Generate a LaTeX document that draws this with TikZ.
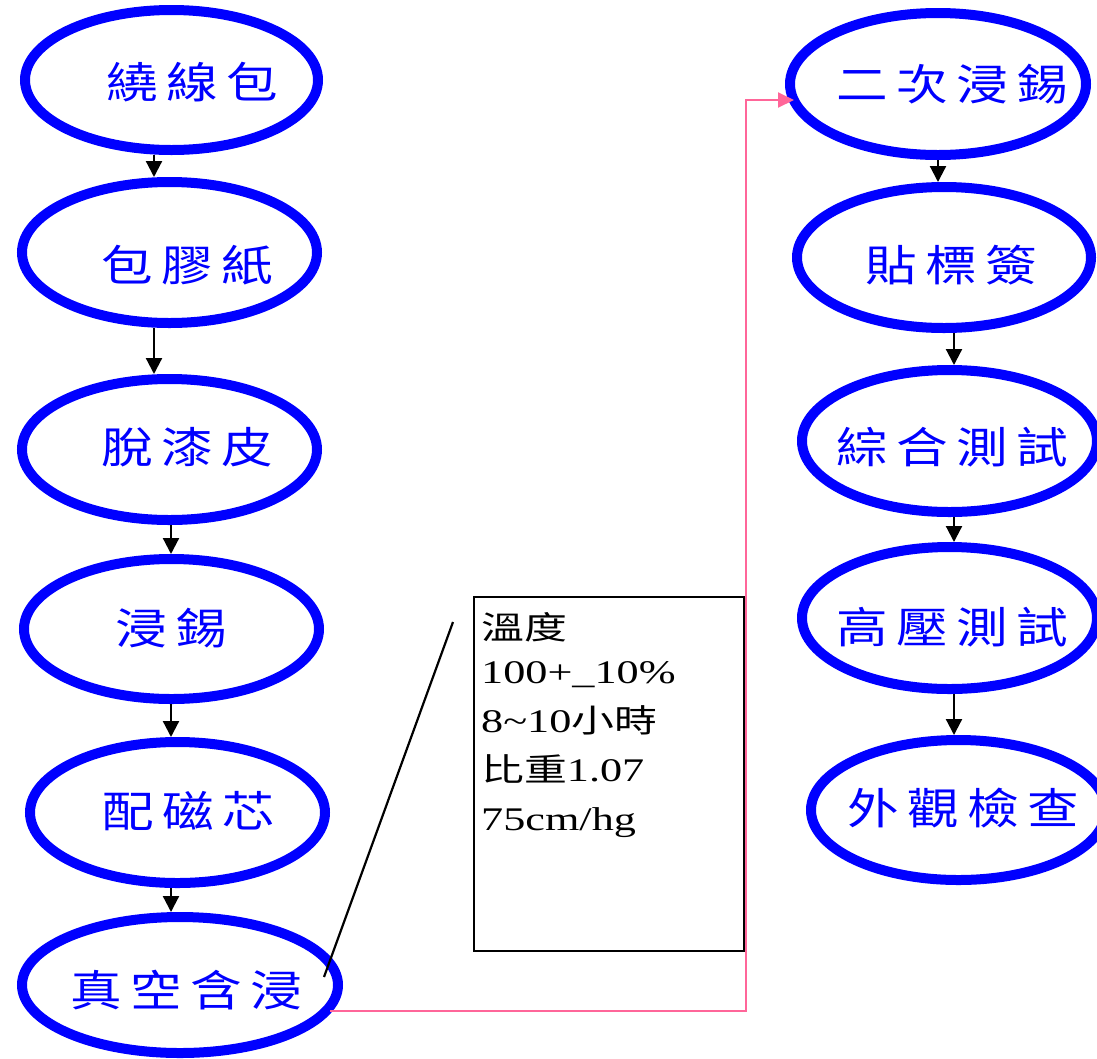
\documentclass[tikz,border=0pt]{standalone}
\usepackage{graphicx}
\usepackage{fontspec}
\setmainfont{Liberation Serif}
\newfontfamily\cjk{Noto Sans CJK TC}
\usetikzlibrary{shapes.geometric,arrows.meta}
\definecolor{ellblue}{RGB}{0,0,255}
\definecolor{linkpink}{RGB}{255,102,153}
\newcommand\cg{\hspace{7pt}}
\newcommand\ctext[1]{\scalebox{1.2}[1]{\cjk\fontsize{43}{50}\selectfont #1}}
\newcommand\bcjk[1]{{\cjk\fontsize{32}{49}\selectfont #1}}
\begin{document}
\begin{tikzpicture}[x=1pt,y=-1pt,
  ell/.style={draw=ellblue, line width=10pt, ellipse, inner sep=0pt, fill=white},
  lbl/.style={text=ellblue, inner sep=0pt},
  arr/.style={draw=black, line width=2.2pt, -{Triangle[width=16pt,length=16pt]}},
  pinkarr/.style={draw=linkpink, line width=2pt, -{Triangle[width=15pt,length=16pt]}},
  infobox/.style={draw=black, line width=2pt, inner sep=0pt}]
\useasboundingbox (0,0) rectangle (1097,1058);
\clip (0,0) rectangle (1097,1058);
\fill[white] (0,0) rectangle (1097,1058);

% left column
\node[ell, minimum width=293pt, minimum height=140pt] (e1) at (171.5,80) {};
\node[ell, minimum width=295pt, minimum height=141pt] (e2) at (169.5,252.5) {};
\node[ell, minimum width=295pt, minimum height=141pt] (e3) at (169.5,449.5) {};
\node[ell, minimum width=295pt, minimum height=140pt] (e4) at (171.5,629) {};
\node[ell, minimum width=295pt, minimum height=141pt] (e5) at (177.5,812.5) {};
\node[ell, minimum width=316pt, minimum height=136pt] (e6) at (180,985) {};
% right column
\node[ell, minimum width=296pt, minimum height=142pt] (e7) at (938,84) {};
\node[ell, minimum width=294pt, minimum height=141pt] (e8) at (944,257.5) {};
\node[ell, minimum width=295pt, minimum height=142pt] (e9) at (949.5,441) {};
\node[ell, minimum width=295pt, minimum height=142pt] (e10) at (949.5,618) {};
\node[ell, minimum width=295pt, minimum height=140pt] (e11) at (958.5,810) {};

% labels
\node[lbl] (t1) at (192.5,82.5) {\ctext{繞\cg 線\cg 包}};
\node[lbl] (t2) at (187.5,265.5) {\ctext{包\cg 膠\cg 紙}};
\node[lbl] (t3) at (187.5,447.5) {\ctext{脫\cg 漆\cg 皮}};
\node[lbl] (t4) at (171,628) {\ctext{浸\cg 錫}};
\node[lbl] (t5) at (188,811) {\ctext{配\cg 磁\cg 芯}};
\node[lbl] (t6) at (186,990) {\ctext{真\cg 空\cg 含\cg 浸}};
\node[lbl] (t7) at (952,84) {\ctext{二\cg 次\cg 浸\cg 錫}};
\node[lbl] (t8) at (951,265) {\ctext{貼\cg 標\cg 簽}};
\node[lbl] (t9) at (952,447) {\ctext{綜\cg 合\cg 測\cg 試}};
\node[lbl] (t10) at (952,627.5) {\ctext{高\cg 壓\cg 測\cg 試}};
\node[lbl] (t11) at (963.5,808) {\ctext{外\cg 觀\cg 檢\cg 查}};

% arrow columns
\coordinate (xa) at (154,0);
\coordinate (xb) at (171,0);
\coordinate (xc) at (938,0);
\coordinate (xd) at (954,0);

\draw[arr] (e1.south -| xa) -- (e2.north -| xa);
\draw[arr] (e2.south -| xa) -- (e3.north -| xa);
\draw[arr] (e3.south -| xb) -- (e4.north -| xb);
\draw[arr] (e4.south -| xb) -- (e5.north -| xb);
\draw[arr] (e5.south -| xb) -- (e6.north -| xb);
\draw[arr] (e7.south -| xc) -- (e8.north -| xc);
\draw[arr] (e8.south -| xd) -- (e9.north -| xd);
\draw[arr] (e9.south -| xd) -- (e10.north -| xd);
\draw[arr] (e10.south -| xd) -- (e11.north -| xd);

% info box
\node[infobox, minimum width=270pt, minimum height=354pt] (box) at (609,774) {};
\node[anchor=north west, inner sep=0pt, align=left] (info) at (481,600)
  {\scalebox{1.34}[1]{\fontsize{33}{49}\selectfont\begin{tabular}{@{}l@{}}\raisebox{-5pt}{\bcjk{溫度}}\\100+\_10\%\\8\textasciitilde10\bcjk{小時}\\\bcjk{比重}1.07\\75cm/hg\end{tabular}}};

% callout line
\coordinate (l0) at (453,622);
\coordinate (l1) at (324,977);
\draw[black, line width=2.2pt] (l0) -- (l1);

% pink connector
\coordinate (p0) at (330,1011);
\coordinate (p1) at (746,100);
\coordinate (p2) at (794,100);
\draw[pinkarr] (p0) -| (p1) -- (p2);
\end{tikzpicture}
\end{document}
